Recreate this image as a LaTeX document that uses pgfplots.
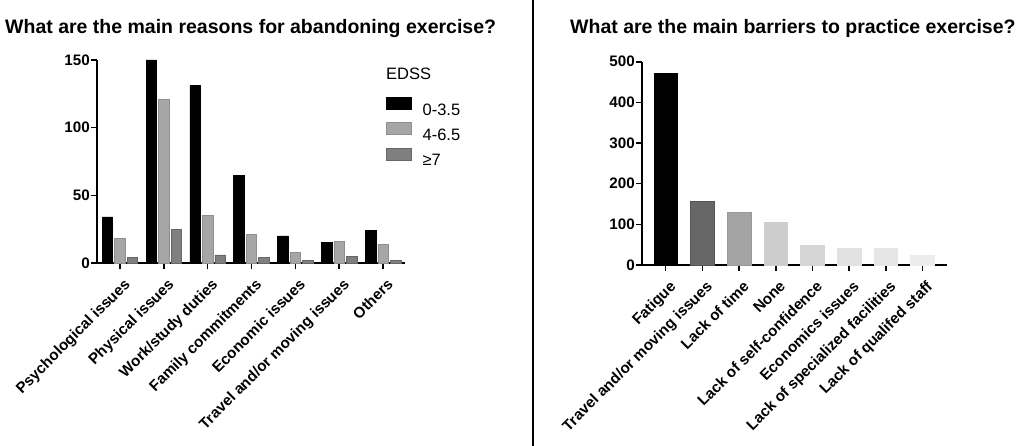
\documentclass[border=0pt]{standalone}
\usepackage{fontspec}
\setmainfont{Liberation Sans}
\usepackage{pgfplots}
\pgfplotsset{compat=1.18}
\definecolor{gmid}{HTML}{A6A6A9}
\definecolor{gmidb}{HTML}{8E8E90}
\definecolor{gdark}{HTML}{7F7F7F}
\definecolor{gdarkb}{HTML}{666666}
\definecolor{cA}{HTML}{000000}
\definecolor{cB}{HTML}{676767}
\definecolor{cBb}{HTML}{555555}
\definecolor{cC}{HTML}{A4A4A4}
\definecolor{cCb}{HTML}{999999}
\definecolor{cD}{HTML}{CDCDCD}
\definecolor{cE}{HTML}{D6D6D6}
\definecolor{cF}{HTML}{E2E2E2}
\definecolor{cG}{HTML}{E6E6E6}
\definecolor{cH}{HTML}{ECECEC}
\pgfplotsset{
  common/.style={
    scale only axis,
    anchor=south west,
    axis x line*=bottom,
    axis y line*=left,
    axis line style={-, line width=1.8pt, black},
    tick align=outside,
    major tick length=6pt,
    every tick/.style={line width=1.6pt, black},
    /pgf/number format/assume math mode=true,
    ticklabel style={font=\bfseries\fontsize{15.2}{18}\selectfont},
    yticklabel style={inner sep=1pt},
    xticklabel style={yshift=-7pt, xshift=3pt, rotate=45, anchor=north east, inner sep=1pt},
    ymin=0,
    xtick={0,...,7},
    clip=false,
  }
}
\begin{document}
\begin{tikzpicture}
\path[use as bounding box] (0pt,0pt) rectangle (1021pt,446pt);
\node[anchor=base west, inner sep=0pt, font=\bfseries\fontsize{19.5}{23}\selectfont] at (5pt,412.7pt) {What are the main reasons for abandoning exercise?};
\node[anchor=base west, inner sep=0pt, font=\bfseries\fontsize{19.5}{23}\selectfont] at (570pt,412.7pt) {What are the main barriers to practice exercise?};
\draw[line width=2pt] (533pt,0pt) -- (533pt,446pt);

\begin{axis}[common,
  at={(97pt,183pt)},
  width=308pt, height=203pt,
  xmin=-0.524, xmax=6.5,
  ymax=150, ytick={0,50,100,150},
  xtick={0,...,6},
  xticklabels={Psychological issues, Physical issues, Work/study duties, Family commitments, Economic issues, Travel and/or moving issues, Others},
  ybar, bar width=10.5pt,
  legend image code/.code={\draw[#1, line width=0.6pt] (0pt,0pt) rectangle (25pt,12pt);},
  legend style={at={(0.9383,0.8177)}, anchor=north west, draw=none, fill=none,
    inner sep=0pt, outer sep=0pt, row sep=7pt, column sep=11pt,
    font=\fontsize{16.5}{19}\selectfont,
    nodes={inner sep=0pt, text height=12pt, text depth=0pt}},
  legend cell align=left,
]
\addplot[fill=black, draw=black, line width=0.6pt, bar shift=-12.5pt] coordinates {(0,34) (1,150) (2,131) (3,65) (4,20) (5,15) (6,24)};
\addlegendentry{0-3.5}
\addplot[fill=gmid, draw=gmidb, line width=0.6pt, bar shift=0pt] coordinates {(0,18) (1,121) (2,35) (3,21) (4,8) (5,16) (6,14)};
\addlegendentry{4-6.5}
\addplot[fill=gdark, draw=gdarkb, line width=0.6pt, bar shift=12.5pt] coordinates {(0,4) (1,25) (2,6) (3,4) (4,2) (5,5) (6,2)};
\addlegendentry{≥7}
\node[anchor=base west, inner sep=0pt, font=\fontsize{16.5}{19}\selectfont] at (rel axis cs:0.9383,0.9015) {EDSS};
\end{axis}

\begin{axis}[common,
  at={(642pt,181pt)},
  width=305pt, height=203.3pt,
  xmin=-0.646, xmax=7.67,
  ymax=500, ytick={0,100,...,500},
  xtick={0,...,7},
  xticklabels={Fatigue, Travel and/or moving issues, Lack of time, None, Lack of self-confidence, Economics issues, Lack of specialized facilities, Lack of qualifed staff},
  ybar, bar width=23.5pt,
]
\addplot[fill=cA, draw=black, line width=0.6pt, bar shift=0pt] coordinates {(0,471)};
\addplot[fill=cB, draw=cBb, line width=0.6pt, bar shift=0pt] coordinates {(1,157)};
\addplot[fill=cC, draw=cCb, line width=0.6pt, bar shift=0pt] coordinates {(2,130)};
\addplot[fill=cD, draw=cD, line width=0.6pt, bar shift=0pt] coordinates {(3,105)};
\addplot[fill=cE, draw=cE, line width=0.6pt, bar shift=0pt] coordinates {(4,48)};
\addplot[fill=cF, draw=cF, line width=0.6pt, bar shift=0pt] coordinates {(5,42)};
\addplot[fill=cG, draw=cG, line width=0.6pt, bar shift=0pt] coordinates {(6,42)};
\addplot[fill=cH, draw=cH, line width=0.6pt, bar shift=0pt] coordinates {(7,24)};
\end{axis}
\end{tikzpicture}
\end{document}
